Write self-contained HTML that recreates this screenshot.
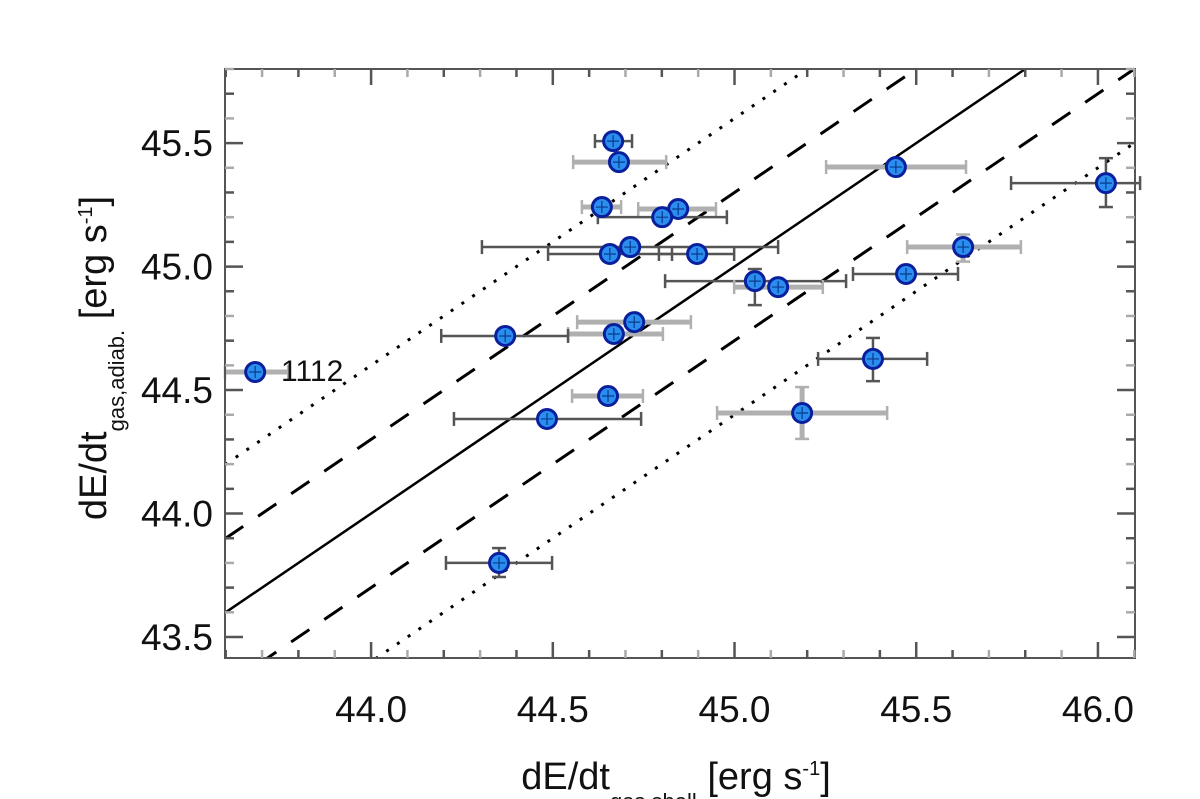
<!DOCTYPE html>
<html><head><meta charset="utf-8"><style>
html,body{margin:0;padding:0;background:#fff;}
svg{display:block;font-family:"Liberation Sans",sans-serif;}
</style></head><body>
<svg id="chart" width="1200" height="799" viewBox="0 0 1200 799">
<defs><clipPath id="clip"><rect x="225" y="69" width="910" height="589"/></clipPath></defs>
<g id="lines" clip-path="url(#clip)"></g>
<g id="errs"></g>
<g id="pts"></g>
<rect x="225" y="69" width="910" height="589" fill="none" stroke="#555" stroke-width="2"/>
<g id="ticks"></g>
<text x="281" y="381" font-size="30" fill="#111">1112</text>
<text x="676" y="789" font-size="38" text-anchor="middle" fill="#111">dE/dt<tspan font-size="22" dy="20">gas,shell</tspan><tspan dy="-20"> [erg s</tspan><tspan font-size="20" dy="-14">-1</tspan><tspan dy="14">]</tspan></text>
<text transform="translate(106,358) rotate(-90)" font-size="38" text-anchor="middle" fill="#111">dE/dt<tspan font-size="22" dy="18">gas,adiab.</tspan><tspan dy="-18"> [erg s</tspan><tspan font-size="20" dy="-14">-1</tspan><tspan dy="14">]</tspan></text>
</svg>
<script>
const xVals=[44.666,44.682,44.635,44.845,44.801,44.713,44.657,44.897,45.056,45.120,45.444,46.022,45.629,45.472,45.381,45.186,44.724,44.668,44.369,44.652,44.484,44.352,43.681];
const yVals=[45.508,45.423,45.241,45.233,45.200,45.079,45.051,45.051,44.941,44.917,45.403,45.338,45.079,44.970,44.626,44.407,44.775,44.727,44.719,44.476,44.383,43.800,44.573];
const xLo=[44.616,44.556,44.580,44.735,44.624,44.305,44.487,44.792,44.809,44.999,45.252,45.761,45.475,45.326,45.230,44.952,44.567,44.542,44.193,44.553,44.228,44.206,43.598];
const xHi=[44.718,44.812,44.688,44.949,44.979,45.120,44.828,44.999,45.307,45.243,45.637,46.116,45.788,45.615,45.530,45.420,44.880,44.803,44.542,44.748,44.743,44.498,43.772];
const yLo=[45.508,45.423,45.241,45.233,45.200,45.079,45.051,45.051,44.844,44.917,45.403,45.241,45.020,44.970,44.536,44.302,44.775,44.727,44.719,44.476,44.383,43.743,44.573];
const yHi=[45.508,45.423,45.241,45.233,45.200,45.079,45.051,45.051,44.990,44.917,45.403,45.439,45.130,44.970,44.711,44.512,44.775,44.727,44.719,44.476,44.383,43.860,44.573];
const grayBar=[0,1,1,1,0,0,0,0,0,1,1,0,1,0,0,1,1,1,0,1,0,0,1];
const offsets=[0,0.3,-0.3,0.6,-0.6];
const xTicks=[44.0,44.5,45.0,45.5,46.0];
const yTicks=[43.5,44.0,44.5,45.0,45.5];
const X0=43.598,X1=46.102,Y0=43.415,Y1=45.80,L=225,R=1135,T=69,B=658;
const sx=v=>L+(v-X0)/(X1-X0)*(R-L);
const sy=v=>B-(v-Y0)/(Y1-Y0)*(B-T);
const NS='http://www.w3.org/2000/svg';
function mk(tag,attrs,parent){const e=document.createElementNS(NS,tag);for(const k in attrs)e.setAttribute(k,attrs[k]);parent.appendChild(e);return e;}
const gl=document.getElementById('lines'),ge=document.getElementById('errs'),gp=document.getElementById('pts'),gt=document.getElementById('ticks'),svg=document.getElementById('chart');
offsets.forEach(o=>{
  const st=o===0?'':(Math.abs(o)<0.5?'22,18':'3,10');
  const ln=mk('line',{x1:sx(X0),y1:sy(X0+o),x2:sx(X1),y2:sy(X1+o),stroke:'#000','stroke-width':o===0?2.5:3,'stroke-dasharray':st},gl);
  
  
});
xVals.forEach((xv,i)=>{
  const c=grayBar[i]?'#b0b0b0':'#555',w=grayBar[i]?5:2.5,cy=sy(yVals[i]),cx=sx(xv);
  const h=mk('line',{x1:sx(xLo[i]),y1:cy,x2:sx(xHi[i]),y2:cy,stroke:c,'stroke-width':w},ge);
  
  
  [xLo[i],xHi[i]].forEach(v=>{const cap=mk('line',{x1:sx(v),y1:cy-7,x2:sx(v),y2:cy+7,stroke:c,'stroke-width':2.5},ge);
    
    });
  if(yHi[i]-yLo[i]>0.01){
    const v=mk('line',{x1:cx,y1:sy(yLo[i]),x2:cx,y2:sy(yHi[i]),stroke:c,'stroke-width':w},ge);
    
    
    [yLo[i],yHi[i]].forEach(u=>{const cap=mk('line',{x1:cx-7,y1:sy(u),x2:cx+7,y2:sy(u),stroke:c,'stroke-width':2.5},ge);
      
      });
  }
  const p=mk('circle',{cx:cx,cy:cy,r:9.5,fill:'#2a8ef0',stroke:'#0a1f9c','stroke-width':3},gp);
  
  
  mk('path',{d:`M${cx-6},${cy}H${cx+6}M${cx},${cy-6}V${cy+6}`,stroke:'#0a3a8c','stroke-width':1.2},gp);
});
for(let k=0;k<=25;k++){
  const v=43.6+k*0.1;if(v>X1)break;const x=sx(v);
  const maj=xTicks.some(t=>Math.abs(t-v)<1e-6);const len=maj?16:8;const col=(k%2===0)?'#555':'#aaa';
  const a=mk('line',{x1:x,y1:B,x2:x,y2:B-len,stroke:maj?'#555':col,'stroke-width':2.5},gt);
  
  
  const b=mk('line',{x1:x,y1:T,x2:x,y2:T+len,stroke:maj?'#555':col,'stroke-width':2.5},gt);
  
  
}
for(let k=0;k<=24;k++){
  const v=43.5+k*0.1;if(v>Y1)break;const y=sy(v);
  const maj=yTicks.some(t=>Math.abs(t-v)<1e-6);const len=maj?18:9;const col=(k%2===0)?'#555':'#aaa';
  const a=mk('line',{x1:L,y1:y,x2:L+len,y2:y,stroke:maj?'#555':col,'stroke-width':2.5},gt);
  
  
  const b=mk('line',{x1:R,y1:y,x2:R-len,y2:y,stroke:maj?'#555':col,'stroke-width':2.5},gt);
  
  
}
xTicks.forEach(t=>{const e=mk('text',{x:sx(t),y:722,'font-size':37,'text-anchor':'middle',fill:'#111'},svg);e.textContent=t.toFixed(1);
  
  });
yTicks.forEach(t=>{const e=mk('text',{x:213,y:sy(t)+13,'font-size':37,'text-anchor':'end',fill:'#111'},svg);e.textContent=t.toFixed(1);
  
  });
</script>
</body></html>
